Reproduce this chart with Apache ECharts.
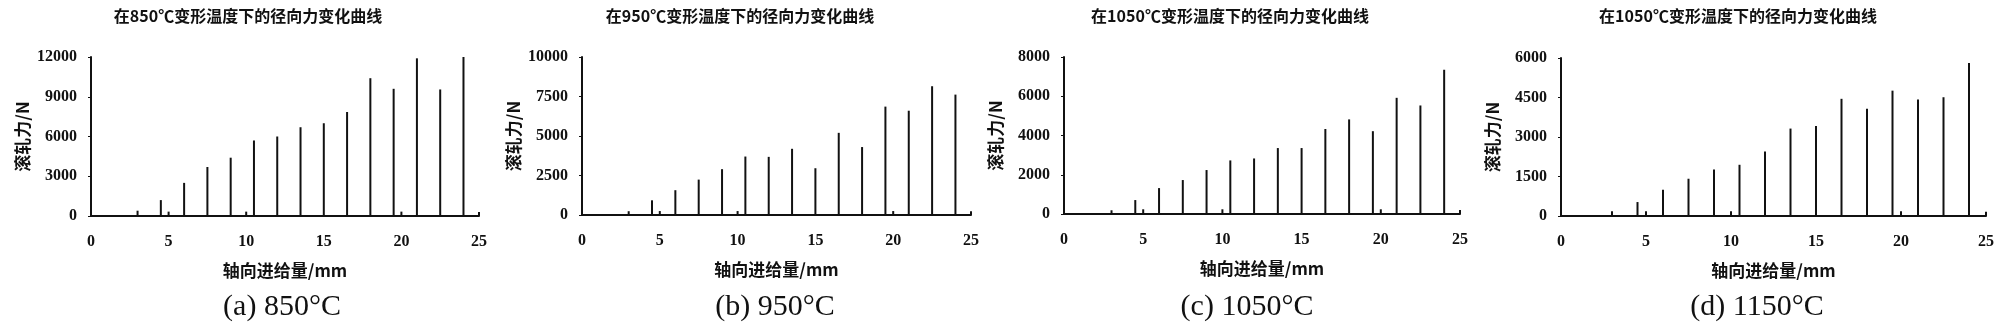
<!DOCTYPE html>
<html>
<head>
<meta charset="utf-8">
<script src="https://cdn.jsdelivr.net/npm/echarts@6/dist/echarts.min.js"></script>
<style>
html,body{margin:0;padding:0;background:#fff;}
#c{width:2000px;height:333px;}
</style>
</head>
<body>
<div id="c"></div>
<script>
// Axial feed positions (mm)
const feedPositions = [3, 4.5, 5, 6, 7.5, 9, 10, 10.5, 12, 13.5, 15, 16.5, 18, 19.5, 20, 21, 22.5, 24, 25];
// Rolling force peaks (N) per temperature
const force850  = [400, 1200, 330, 2500, 3700, 4400, 330, 5700, 6000, 6700, 7000, 7850, 10400, 9600, 330, 11900, 9550, 12000, 300];
const force950  = [240, 930, 250, 1570, 2240, 2900, 250, 3700, 3680, 4190, 2960, 5200, 4300, 6860, 250, 6600, 8150, 7620, 230];
const force1050 = [190, 710, 240, 1320, 1730, 2240, 240, 2730, 2830, 3360, 3360, 4330, 4820, 4220, 240, 5920, 5530, 7350, 200];
const force1150 = [177, 530, 177, 1000, 1415, 1770, 177, 1945, 2450, 3320, 3420, 4450, 4070, 4760, 177, 4420, 4510, 5810, 165];

const panelTitles = ['在850℃变形温度下的径向力变化曲线', '在950℃变形温度下的径向力变化曲线', '在1050℃变形温度下的径向力变化曲线', '在1050℃变形温度下的径向力变化曲线'];
const captions = ['(a) 850°C', '(b) 950°C', '(c) 1050°C', '(d) 1150°C'];
const yMax = [12000, 10000, 8000, 6000];
const yInterval = [3000, 2500, 2000, 1500];
const xMax = 25, xInterval = 5;
const xName = '轴向进给量/mm';
const yName = '滚轧力/N';

const seriesData = [force850, force950, force1050, force1150];

// layout
const grids = [
  {left: 91, top: 57, width: 388, height: 159},
  {left: 582, top: 57, width: 389, height: 158},
  {left: 1064, top: 57, width: 396, height: 157},
  {left: 1561, top: 58, width: 425, height: 158}
];
const titleX = [248, 740, 1230, 1738];
const captionX = [282, 775, 1247, 1757];

const cjk = '"Noto Sans CJK SC", sans-serif';
const num = '"Liberation Serif", serif';

const option = {
  backgroundColor: '#fff',
  animation: false,
  title: [],
  grid: grids.map(g => Object.assign({containLabel: false}, g)),
  xAxis: [],
  yAxis: [],
  series: []
};

for (let i = 0; i < 4; i++) {
  option.title.push({
    text: panelTitles[i], left: titleX[i], top: 8, textAlign: 'center', padding: 0,
    textStyle: {fontFamily: cjk, fontSize: 16, fontWeight: 'bold', color: '#111'}
  });
  option.title.push({
    text: captions[i], left: captionX[i], top: 292, textAlign: 'center', padding: 0,
    textStyle: {fontFamily: num, fontSize: 30, fontWeight: 'normal', color: '#111'}
  });
  option.xAxis.push({
    type: 'value', gridIndex: i, min: 0, max: xMax, interval: xInterval,
    name: xName, nameLocation: 'middle', nameGap: 46,
    nameTextStyle: {fontFamily: cjk, fontSize: 17, fontWeight: 'bold', color: '#111'},
    axisLine: {show: true, lineStyle: {color: '#111', width: 2}},
    axisTick: {show: false},
    splitLine: {show: false},
    axisLabel: {fontFamily: num, fontSize: 16, fontWeight: 'bold', color: '#111', margin: 18,
                formatter: v => String(v)}
  });
  option.yAxis.push({
    type: 'value', gridIndex: i, min: 0, max: yMax[i], interval: yInterval[i],
    name: yName, nameLocation: 'middle', nameGap: 60,
    nameTextStyle: {fontFamily: cjk, fontSize: 17, fontWeight: 'bold', color: '#111'},
    axisLine: {show: true, lineStyle: {color: '#111', width: 2}},
    axisTick: {show: true, length: 3, lineStyle: {color: '#111', width: 1}},
    splitLine: {show: false},
    axisLabel: {fontFamily: num, fontSize: 16, fontWeight: 'bold', color: '#111', margin: 14,
                formatter: v => String(v)}
  });
  option.series.push({
    type: 'bar', xAxisIndex: i, yAxisIndex: i, barWidth: 2, clip: false,
    itemStyle: {color: '#111'},
    data: feedPositions.map((x, k) => [x, seriesData[i][k]])
  });
}

const chart = echarts.init(document.getElementById('c'), null, {renderer: 'canvas'});
chart.setOption(option);
</script>
</body>
</html>
